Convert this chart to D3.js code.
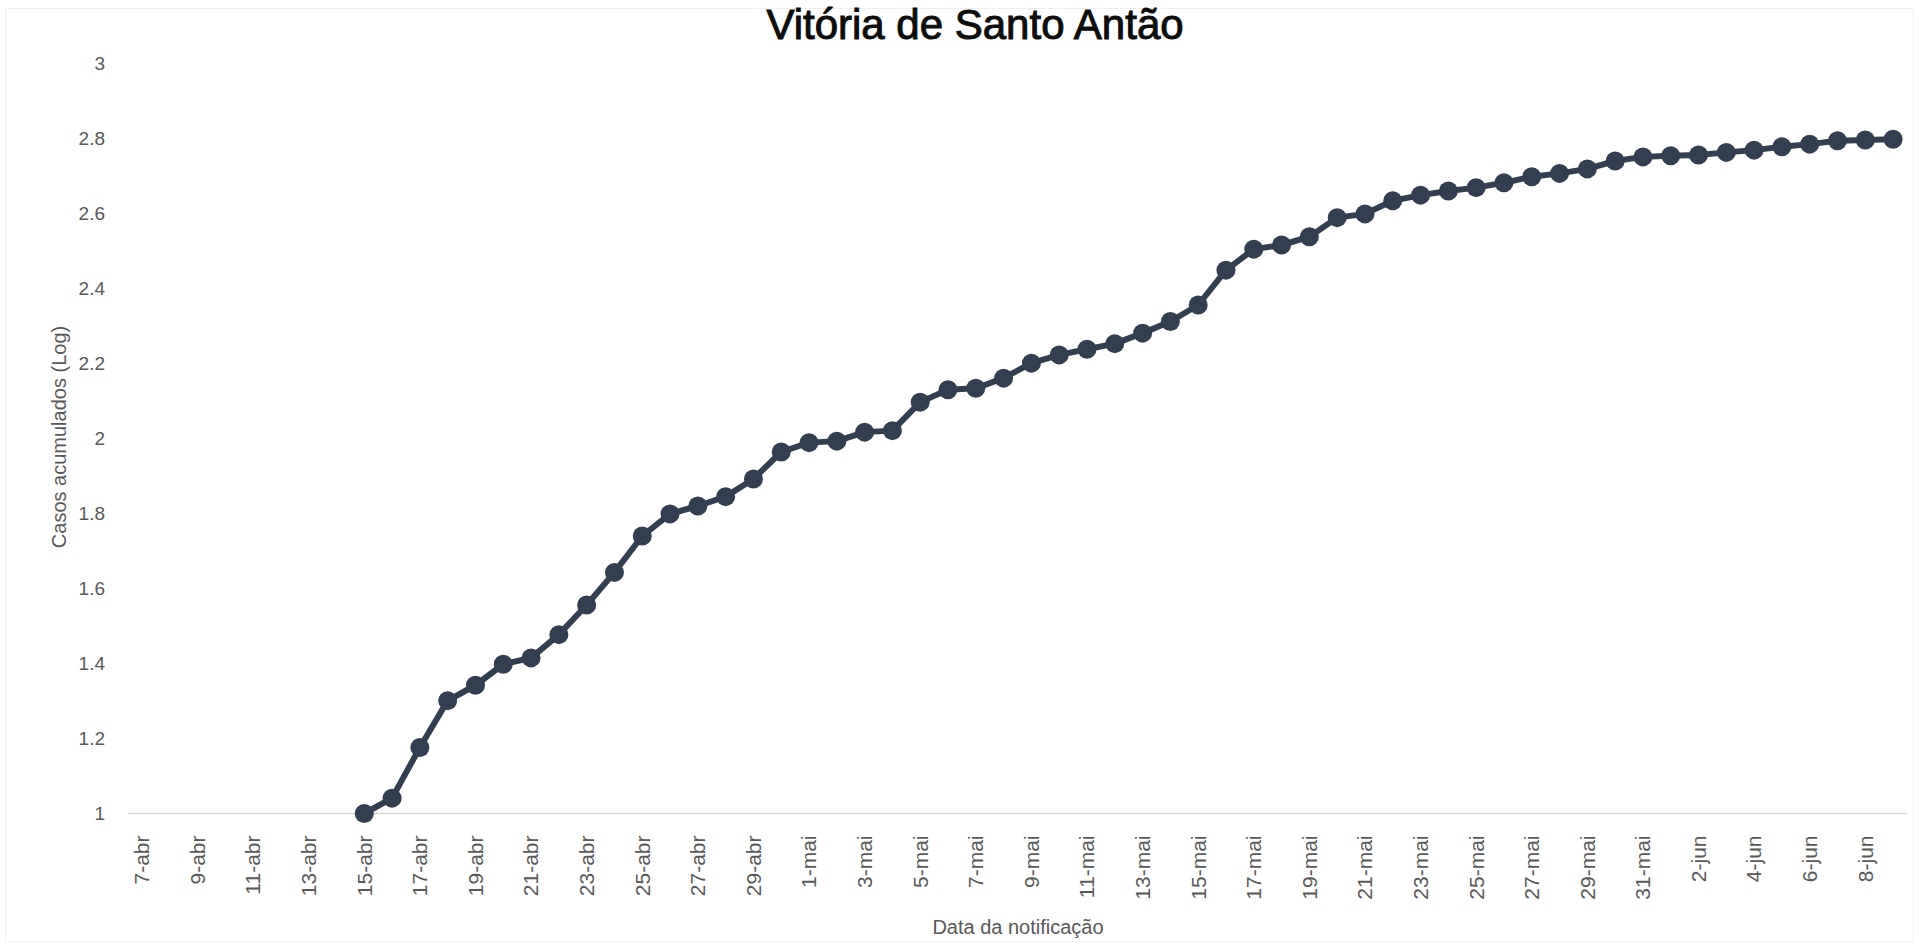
<!DOCTYPE html>
<html>
<head>
<meta charset="utf-8">
<script src="https://cdn.jsdelivr.net/npm/d3@7"></script>
<style>
  html, body { margin: 0; padding: 0; background: #fff; }
  svg { display: block; }
  text { font-family: "Liberation Sans", Arial, sans-serif; }
</style>
</head>
<body>
<div id="chart"></div>
<script>
// Dados
const titulo = "Vitória de Santo Antão";
const tituloY = "Casos acumulados (Log)";
const tituloX = "Data da notificação";

const datas = [
  "7-abr", "8-abr", "9-abr", "10-abr", "11-abr", "12-abr", "13-abr", "14-abr",
  "15-abr", "16-abr", "17-abr", "18-abr", "19-abr", "20-abr", "21-abr", "22-abr",
  "23-abr", "24-abr", "25-abr", "26-abr", "27-abr", "28-abr", "29-abr", "30-abr",
  "1-mai", "2-mai", "3-mai", "4-mai", "5-mai", "6-mai", "7-mai", "8-mai",
  "9-mai", "10-mai", "11-mai", "12-mai", "13-mai", "14-mai", "15-mai", "16-mai",
  "17-mai", "18-mai", "19-mai", "20-mai", "21-mai", "22-mai", "23-mai", "24-mai",
  "25-mai", "26-mai", "27-mai", "28-mai", "29-mai", "30-mai", "31-mai",
  "1-jun", "2-jun", "3-jun", "4-jun", "5-jun", "6-jun", "7-jun", "8-jun", "9-jun"
];

// log10 dos casos acumulados (sem dados antes de 15-abr)
const casosLog = [
  null, null, null, null, null, null, null, null,
  1.000, 1.041, 1.176, 1.301, 1.342, 1.398, 1.415, 1.477,
  1.556, 1.643, 1.740, 1.799, 1.820, 1.845, 1.892, 1.964,
  1.989, 1.993, 2.017, 2.021, 2.097, 2.130, 2.134, 2.161,
  2.201, 2.223, 2.238, 2.253, 2.281, 2.312, 2.356, 2.449,
  2.505, 2.516, 2.538, 2.589, 2.599, 2.634, 2.649, 2.660,
  2.669, 2.682, 2.698, 2.707, 2.719, 2.740, 2.751,
  2.754, 2.756, 2.763, 2.769, 2.778, 2.785, 2.794, 2.796, 2.798
];

const yTicks = [1, 1.2, 1.4, 1.6, 1.8, 2, 2.2, 2.4, 2.6, 2.8, 3];

// Configurações
const W = 1919, H = 947;
const plot = { left: 128, right: 1907, top: 63.5, bottom: 813.5 };
const cor = "#333F50";
const cinza = "#595959";

const svg = d3.select("#chart")
  .append("svg")
  .attr("width", W)
  .attr("height", H);

// moldura clara
svg.append("rect")
  .attr("x", 5.5).attr("y", 8.5)
  .attr("width", W - 11).attr("height", H - 14)
  .attr("fill", "none")
  .attr("stroke", "#efefef");

// Escalas
const x = d3.scaleBand().domain(datas).range([plot.left, plot.right]);
const y = d3.scaleLinear().domain([1, 3]).range([plot.bottom, plot.top]);
const cx = d => x(d) + x.bandwidth() / 2;

// Linha de base em 1
svg.append("line")
  .attr("x1", plot.left).attr("x2", plot.right)
  .attr("y1", y(1)).attr("y2", y(1))
  .attr("stroke", "#d9d9d9")
  .attr("stroke-width", 1.5);

// Eixo Y
const yAxis = d3.axisLeft(y)
  .tickValues(yTicks)
  .tickSize(0)
  .tickPadding(23)
  .tickFormat(d => String(+d.toFixed(1)));

svg.append("g")
  .attr("transform", `translate(${plot.left},0)`)
  .call(yAxis)
  .call(g => g.select(".domain").remove())
  .selectAll("text")
  .attr("font-family", "Liberation Sans, Arial, sans-serif")
  .attr("font-size", 19)
  .attr("fill", cinza);

// Eixo X (rótulos a cada 2 dias)
const xAxis = d3.axisBottom(x)
  .tickValues(datas.filter((d, i) => i % 2 === 0))
  .tickSize(0)
  .tickPadding(0);

svg.append("g")
  .attr("transform", `translate(0,${plot.bottom})`)
  .call(xAxis)
  .call(g => g.select(".domain").remove())
  .selectAll("text")
  .attr("font-family", "Liberation Sans, Arial, sans-serif")
  .attr("font-size", 21)
  .attr("fill", cinza)
  .attr("text-anchor", "end")
  .attr("transform", "rotate(-90)")
  .attr("x", -22)
  .attr("y", 0)
  .attr("dy", "0.35em");

// Linha
const pontos = datas.map((d, i) => ({ data: d, v: casosLog[i] })).filter(d => d.v !== null);

const linha = d3.line()
  .x(d => cx(d.data))
  .y(d => y(d.v));

svg.append("path")
  .datum(pontos)
  .attr("fill", "none")
  .attr("stroke", cor)
  .attr("stroke-width", 6)
  .attr("stroke-linejoin", "round")
  .attr("d", linha);

svg.selectAll(".ponto")
  .data(pontos)
  .enter()
  .append("circle")
  .attr("class", "ponto")
  .attr("cx", d => cx(d.data))
  .attr("cy", d => y(d.v))
  .attr("r", 9.5)
  .attr("fill", cor);

// Títulos
svg.append("text")
  .attr("x", 975)
  .attr("y", 39)
  .attr("text-anchor", "middle")
  .attr("font-size", 42)
  .attr("fill", "#0d0d0d")
  .attr("stroke", "#0d0d0d")
  .attr("stroke-width", 1)
  .text(titulo);

svg.append("text")
  .attr("transform", "translate(66,437) rotate(-90)")
  .attr("text-anchor", "middle")
  .attr("font-size", 20)
  .attr("fill", cinza)
  .text(tituloY);

svg.append("text")
  .attr("x", 1018)
  .attr("y", 934)
  .attr("text-anchor", "middle")
  .attr("font-size", 20)
  .attr("fill", cinza)
  .text(tituloX);
</script>
</body>
</html>
